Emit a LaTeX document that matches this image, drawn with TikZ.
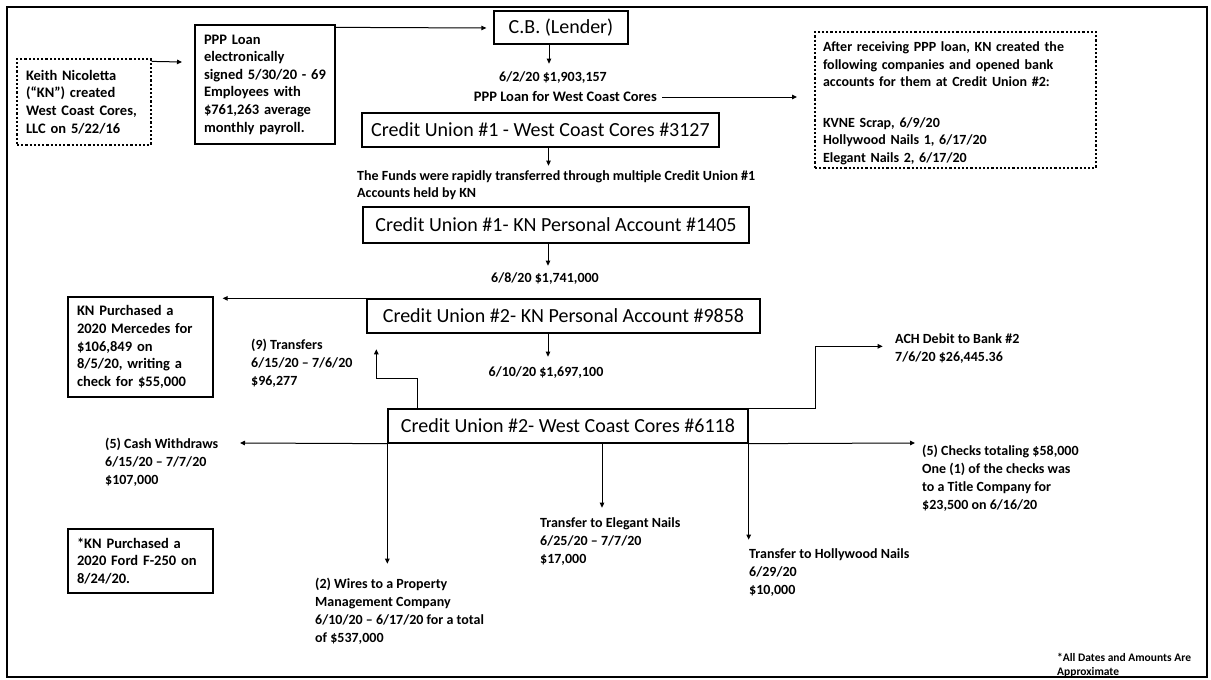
\documentclass[tikz,border=0pt]{standalone}
\usepackage{fontspec}
\setmainfont{Carlito}
\usetikzlibrary{arrows.meta,calc}
\begin{document}
\begin{tikzpicture}[x=1pt,y=-1pt,
  box/.style={draw,line width=1.3pt,inner ysep=0pt,inner xsep=9pt,align=left,font=\bfseries\fontsize{14.5}{17.6}\selectfont},
  dbox/.style={box,dash pattern=on 2.2pt off 2pt,line width=1.2pt},
  tbox/.style={draw,line width=1.3pt,inner sep=0pt,font=\fontsize{20}{24}\selectfont},
  lbl/.style={inner sep=0pt,align=left,font=\bfseries\fontsize{14}{18}\selectfont},
  arr/.style={line width=1pt,-{Triangle[length=5pt,width=4.5pt]}},
]
\useasboundingbox (0,0) rectangle (1211,680);
\draw[line width=2.2pt] (7,7) rectangle (1207,677);

% boxes
\node[dbox,minimum width=134pt,minimum height=86pt,text width=116pt] (keith) at (84,102) {Keith Nicoletta\\(“KN”) created\\West Coast Cores,\\LLC on 5/22/16};
\node[box,inner xsep=7pt,minimum width=140pt,minimum height=119pt,text width=126pt] (ppp) at (265,84.5) {\hspace*{2pt}PPP Loan\\\hspace*{2pt}electronically\\\hspace*{2pt}signed 5/30/20 - 69\\\hspace*{2pt}Employees with\\\hspace*{2pt}\$761,263 average\\\hspace*{2pt}monthly payroll.};
\node[tbox,minimum width=134pt,minimum height=33pt] (cb) at (561,27.5) {C.B. (Lender)};
\node[dbox,inner xsep=8pt,minimum width=281pt,minimum height=136pt,text width=265pt,font=\bfseries\fontsize{14}{17.5}\selectfont] (after) at (955.5,100) {\rule{0pt}{16pt}After receiving PPP loan, KN created the\\following companies and opened bank\\accounts for them at Credit Union \#2:\\[23pt]KVNE Scrap, 6/9/20\\Hollywood Nails 1, 6/17/20\\Elegant Nails 2, 6/17/20};
\node[tbox,minimum width=357pt,minimum height=34pt] (cu1) at (540.5,130) {Credit Union \#1 - West Coast Cores \#3127};
\node[tbox,minimum width=386pt,minimum height=36pt] (p1405) at (556,225) {Credit Union \#1- KN Personal Account \#1405};
\node[tbox,minimum width=393pt,minimum height=34pt] (p9858) at (563.5,316) {Credit Union \#2- KN Personal Account \#9858};
\node[tbox,minimum width=360pt,minimum height=34pt] (w6118) at (568,426) {Credit Union \#2- West Coast Cores \#6118};
\node[box,minimum width=145pt,minimum height=100pt,text width=127pt] (merc) at (140.5,347) {KN Purchased a\\2020 Mercedes for\\\$106,849 on\\8/5/20, writing a\\check for \$55,000};
\node[box,minimum width=145pt,minimum height=64pt,text width=127pt] (ford) at (140.5,561) {*KN Purchased a\\2020 Ford F-250 on\\8/24/20.};

% labels
\node[lbl] (l602) at (553,78) {6/2/20 \$1,903,157};
\node[lbl,font=\bfseries\fontsize{14.5}{17}\selectfont,anchor=east] (lppp) at (657,97) {PPP Loan for West Coast Cores};
\node[lbl,anchor=west,font=\bfseries\fontsize{14}{17}\selectfont] (funds) at (357,185.5) {The Funds were rapidly transferred through multiple Credit Union \#1\\Accounts held by KN};
\node[lbl] (l608) at (545,279) {6/8/20 \$1,741,000};
\node[lbl] (l610) at (546,373) {6/10/20 \$1,697,100};
\node[lbl,anchor=west] (tr9) at (251,363) {(9) Transfers\\6/15/20 – 7/6/20\\\$96,277};
\node[lbl,anchor=west] (cash) at (105,462) {(5) Cash Withdraws\\6/15/20 – 7/7/20\\\$107,000};
\node[lbl,anchor=west] (wires) at (315,611) {(2) Wires to a Property\\Management Company\\6/10/20 – 6/17/20 for a total\\of \$537,000};
\node[lbl,anchor=west] (eleg) at (540,542) {Transfer to Elegant Nails\\6/25/20 – 7/7/20\\\$17,000};
\node[lbl,anchor=west] (holly) at (749,573) {Transfer to Hollywood Nails\\6/29/20\\\$10,000};
\node[lbl,anchor=west] (checks) at (922,478) {(5) Checks totaling \$58,000\\One (1) of the checks was\\to a Title Company for\\\$23,500 on 6/16/20};
\node[lbl,anchor=west] (ach) at (895,349) {ACH Debit to Bank \#2\\7/6/20 \$26,445.36};
\node[lbl,anchor=west,font=\bfseries\fontsize{11.5}{14}\selectfont] (foot) at (1057,665) {*All Dates and Amounts Are\\Approximate};

% free ends
\coordinate (pppin) at (182,62);
\coordinate (afterin) at (797,97);
\coordinate (cashin) at (240,443);
\coordinate (checksin) at (915,443);

% connectors
\draw[arr] ($(keith.north east)+(0,3)$) -- (pppin);
\draw[arr] ($(ppp.north east)+(0,3)$) -- ($(cb.west)+(-7,0.5)$);
\draw[arr] ($(cb.south)+(-12,0)$) -- ++(0,19);
\draw[arr] ($(lppp.east)+(5,0)$) -- (afterin);
\draw[arr] ($(cu1.south)+(8,0)$) -- ++(0,18);
\draw[arr] ($(p1405.south)+(-8,0)$) -- ++(0,22);
\draw[arr] ($(p9858.south)+(-15.5,0)$) -- ++(0,23);
\draw[arr] (p9858.north west) -- ($(merc.north east)+(9,2)$);
\draw[arr] ($(w6118.north west)+(30,0)$) -- ++(0,-30) -- ++(-41,0) -- ++(0,-29);
\draw[arr] (w6118.north east) -- ++(67,0) -- ++(0,-62) -- ++(67,0);
\draw[arr] (w6118.south west) -- (cashin);
\draw[arr] (w6118.south east) -- (checksin);
\draw[arr] (w6118.south west) -- ++(0,120);
\draw[arr] ($(w6118.south)+(34,0)$) -- ++(0,64);
\draw[arr] (w6118.south east) -- ++(0,96);
\end{tikzpicture}
\end{document}
